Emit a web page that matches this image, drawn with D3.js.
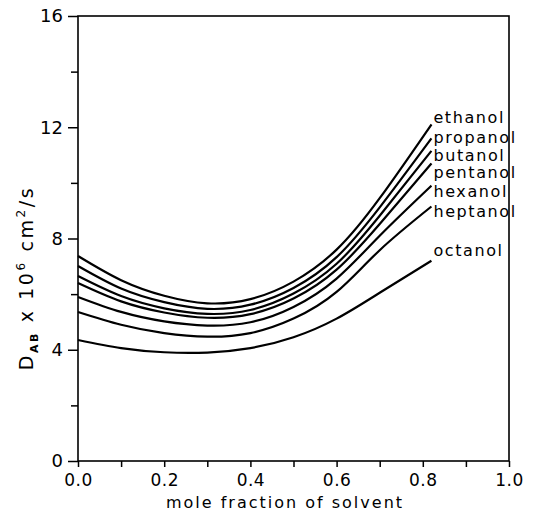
<!DOCTYPE html>
<html>
<head>
<meta charset="utf-8">
<script src="https://cdn.jsdelivr.net/npm/d3@7"></script>
<style>
  body { margin: 0; background: #fff; }
  text { font-family: "DejaVu Sans", sans-serif; fill: #000; }
</style>
</head>
<body>
<div id="chart"></div>
<script>
//Chart size
var width = 535;
var height = 513;

//Data
var moleFraction = [0, 0.1, 0.2, 0.3, 0.4, 0.5, 0.6, 0.7, 0.82];
var solvents = ["ethanol", "propanol", "butanol", "pentanol", "hexanol", "heptanol", "octanol"];
var ethanol  = [7.37, 6.50, 5.94, 5.67, 5.82, 6.45, 7.60, 9.45, 12.10];
var propanol = [7.01, 6.20, 5.71, 5.47, 5.62, 6.22, 7.33, 9.12, 11.60];
var butanol  = [6.65, 5.93, 5.49, 5.29, 5.43, 6.02, 7.09, 8.82, 11.15];
var pentanol = [6.40, 5.74, 5.34, 5.15, 5.28, 5.84, 6.88, 8.52, 10.70];
var hexanol  = [5.90, 5.36, 5.02, 4.87, 4.99, 5.54, 6.56, 8.10, 9.90];
var heptanol = [5.36, 4.90, 4.60, 4.47, 4.60, 5.12, 6.08, 7.58, 9.15];
var octanol  = [4.35, 4.06, 3.91, 3.90, 4.06, 4.45, 5.12, 6.05, 7.20];
var seriesValues = [ethanol, propanol, butanol, pentanol, hexanol, heptanol, octanol];
//where each name sits, in D units
var labelAt = [12.34, 11.65, 11.0, 10.36, 9.68, 8.96, 7.59];

var xTicks = [0, 0.2, 0.4, 0.6, 0.8, 1.0];
var yTicks = [0, 4, 8, 12, 16];

var margin = {top: 16, right: 26, bottom: 52, left: 78};

var svg = d3.select("#chart").append("svg")
	.attr("width", width)
	.attr("height", height);

var x = d3.scaleLinear().domain([0, 1]).range([margin.left, width - margin.right]);
var y = d3.scaleLinear().domain([0, 16]).range([height - margin.bottom, margin.top]);

//Frame
svg.append("rect")
	.attr("x", x(0)).attr("y", y(16))
	.attr("width", x(1) - x(0)).attr("height", y(0) - y(16))
	.attr("fill", "none").attr("stroke", "#000").attr("stroke-width", 1.6);

//Y axis, ticks outward
var yAxis = d3.axisLeft(y)
	.tickValues(d3.range(0, 17, 2))
	.tickSize(10)
	.tickPadding(5)
	.tickFormat(function(d) { return yTicks.indexOf(d) >= 0 ? d : ""; });
var gy = svg.append("g").attr("transform", "translate(" + x(0) + ",0)").call(yAxis);
gy.selectAll(".tick line").attr("stroke-width", 1.5)
	.attr("x2", function(d) { return yTicks.indexOf(d) >= 0 ? -10 : -7; });

//X axis, ticks every 0.1
var xAxis = d3.axisBottom(x)
	.tickValues(d3.range(0, 1.01, 0.1))
	.tickSize(6)
	.tickPadding(7)
	.tickFormat(function(d, i) { return i % 2 === 0 ? d3.format(".1f")(d) : ""; });
var gx = svg.append("g").attr("transform", "translate(0," + y(0) + ")").call(xAxis);
gx.selectAll(".tick line").attr("stroke-width", 1.5);

svg.selectAll(".domain").remove();
svg.selectAll(".tick text").style("font-size", "18px").style("font-family", "DejaVu Sans");
gx.selectAll(".tick text").style("font-size", "17px").style("letter-spacing", "0.5px");

//Curves
var line = d3.line()
	.x(function(d, i) { return x(moleFraction[i]); })
	.y(function(d) { return y(d); })
	.curve(d3.curveNatural);

svg.selectAll("path.curve")
	.data(seriesValues)
	.enter()
	.append("path")
	.attr("class", "curve")
	.attr("d", line)
	.attr("fill", "none")
	.attr("stroke", "#000")
	.attr("stroke-width", 2.2);

//Curve names
svg.selectAll("text.name")
	.data(solvents)
	.enter()
	.append("text")
	.attr("class", "name")
	.attr("x", x(moleFraction[moleFraction.length - 1]) + 2)
	.attr("y", function(d, i) { return y(labelAt[i]); })
	.attr("dy", "0.35em")
	.style("font-size", "16px")
	.style("letter-spacing", "1.6px")
	.text(function(d) { return d; });

//Axis titles
svg.append("text")
	.attr("x", 285)
	.attr("y", 508)
	.attr("text-anchor", "middle")
	.style("font-size", "16px")
	.style("letter-spacing", "2px")
	.text("mole fraction of solvent");

var yTitle = svg.append("text")
	.attr("transform", "translate(33," + 278 + ") rotate(-90)")
	.attr("text-anchor", "middle")
	.style("font-size", "19px")
	.style("letter-spacing", "2.6px");
yTitle.append("tspan").text("D");
yTitle.append("tspan").attr("dy", 5).style("font-size", "11px").style("font-weight", "bold").text("AB");
yTitle.append("tspan").attr("dy", -5).text(" x 10");
yTitle.append("tspan").attr("dy", -8).style("font-size", "12px").text("6");
yTitle.append("tspan").attr("dy", 8).text(" cm");
yTitle.append("tspan").attr("dy", -8).style("font-size", "12px").text("2");
yTitle.append("tspan").attr("dy", 8).text("/s");
</script>
</body>
</html>
